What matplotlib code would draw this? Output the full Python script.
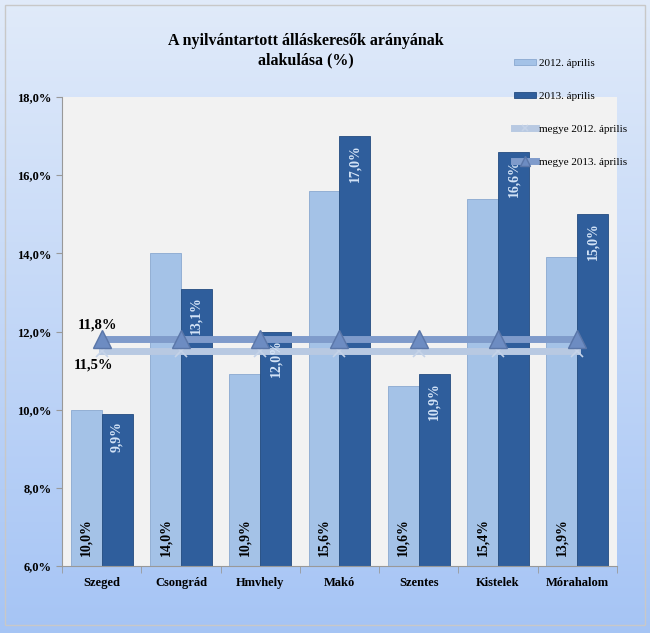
import numpy as np
import matplotlib.pyplot as plt
from matplotlib.patches import Rectangle

# Data
telepulesek = ["Szeged", "Csongrád", "Hmvhely", "Makó", "Szentes", "Kistelek", "Mórahalom"]
ev2012 = [10.0, 14.0, 10.9, 15.6, 10.6, 15.4, 13.9]
ev2013 = [9.9, 13.1, 12.0, 17.0, 10.9, 16.6, 15.0]
megye2012 = [11.5] * len(telepulesek)
megye2013 = [11.8] * len(telepulesek)
yticks = [6, 8, 10, 12, 14, 16, 18]


def fmt(v):
    return f"{v:.1f}%".replace(".", ",")


plt.rcParams["font.family"] = ["Liberation Serif", "DejaVu Serif"]

fig = plt.figure(figsize=(6.5, 6.33), dpi=100)

# gradient background
bg = fig.add_axes([0, 0, 1, 1], zorder=-2)
grad = np.linspace(0, 1, 256).reshape(-1, 1)
top = np.array([0.88, 0.92, 0.98])
bot = np.array([0.65, 0.77, 0.96])
img = top + (bot - top) * grad[:, :, None]
bg.imshow(img, aspect="auto", extent=[0, 1, 0, 1])
bg.add_patch(Rectangle((0.008, 0.012), 0.984, 0.98, fill=False, ec="#c8c8c8", lw=1))
bg.set_xlim(0, 1)
bg.set_ylim(0, 1)
bg.axis("off")

ax = fig.add_axes([0.0954, 0.1058, 0.8538, 0.741])
ax.set_facecolor("#f2f2f2")

x = np.arange(len(telepulesek))
w = 0.39
b1 = ax.bar(x - w / 2, np.array(ev2012) - 6, w, bottom=6, color="#a4c2e7",
            edgecolor="#8aa8d0", lw=0.6, label="2012. április", zorder=2)
b2 = ax.bar(x + w / 2, np.array(ev2013) - 6, w, bottom=6, color="#2f5e9c",
            edgecolor="#244c80", lw=0.6, label="2013. április", zorder=2)

for xi, v in zip(x, ev2012):
    ax.text(xi - w / 2, 6.25, fmt(v), rotation=90, ha="center", va="bottom",
            fontsize=10, fontweight="bold", color="black", zorder=5)
for xi, v in zip(x, ev2013):
    ax.text(xi + w / 2, v - 0.2, fmt(v), rotation=90, ha="center", va="top",
            fontsize=10, fontweight="bold", color="#d4e4f7", zorder=5)

l1, = ax.plot(x, megye2012, color="#b8c9e2", lw=5, marker="x", ms=9, mew=1.2,
              mec="#c5d3e8", label="megye 2012. április", zorder=3)
l2, = ax.plot(x, megye2013, color="#7f9bcb", lw=5, marker="^", ms=13,
              mfc="#6d8cc2", mec="#5a76a8", label="megye 2013. április", zorder=4)

ax.text(x[0] - 0.05, megye2013[0] + 0.2, fmt(megye2013[0]), ha="center",
        va="bottom", fontsize=10.5, fontweight="bold")
ax.text(x[0] - 0.1, megye2012[0] - 0.2, fmt(megye2012[0]), ha="center",
        va="top", fontsize=10.5, fontweight="bold")

ax.set_xlim(-0.5, len(telepulesek) - 0.5)
ax.set_ylim(6, 18)
ax.set_yticks(yticks)
ax.set_yticklabels([fmt(v) for v in yticks], fontsize=9, fontweight="bold")
ax.set_xticks(x)
ax.set_xticklabels(telepulesek, fontsize=9, fontweight="bold")
ax.tick_params(axis="x", length=0, pad=8)
ax.tick_params(axis="y", length=4, color="#999999")
ax.set_xticks(np.arange(len(telepulesek) + 1) - 0.5, minor=True)
ax.tick_params(axis="x", which="minor", length=5, color="#999999")
for s in ["top", "right"]:
    ax.spines[s].set_visible(False)
ax.spines["left"].set_color("#999999")
ax.spines["bottom"].set_color("#999999")

fig.text(0.47, 0.92, "A nyilvántartott álláskeresők arányának\nalakulása (%)",
         ha="center", va="center", fontsize=11.5, fontweight="bold", linespacing=1.25)

fig.legend(handles=[b1, b2, l1, l2], loc="upper left", bbox_to_anchor=(0.775, 0.923),
           frameon=False, fontsize=8, labelspacing=2.15, handlelength=2.0,
           handletextpad=0.3, markerscale=0.5, handleheight=0.5)

fig.savefig("out.png", dpi=100)
